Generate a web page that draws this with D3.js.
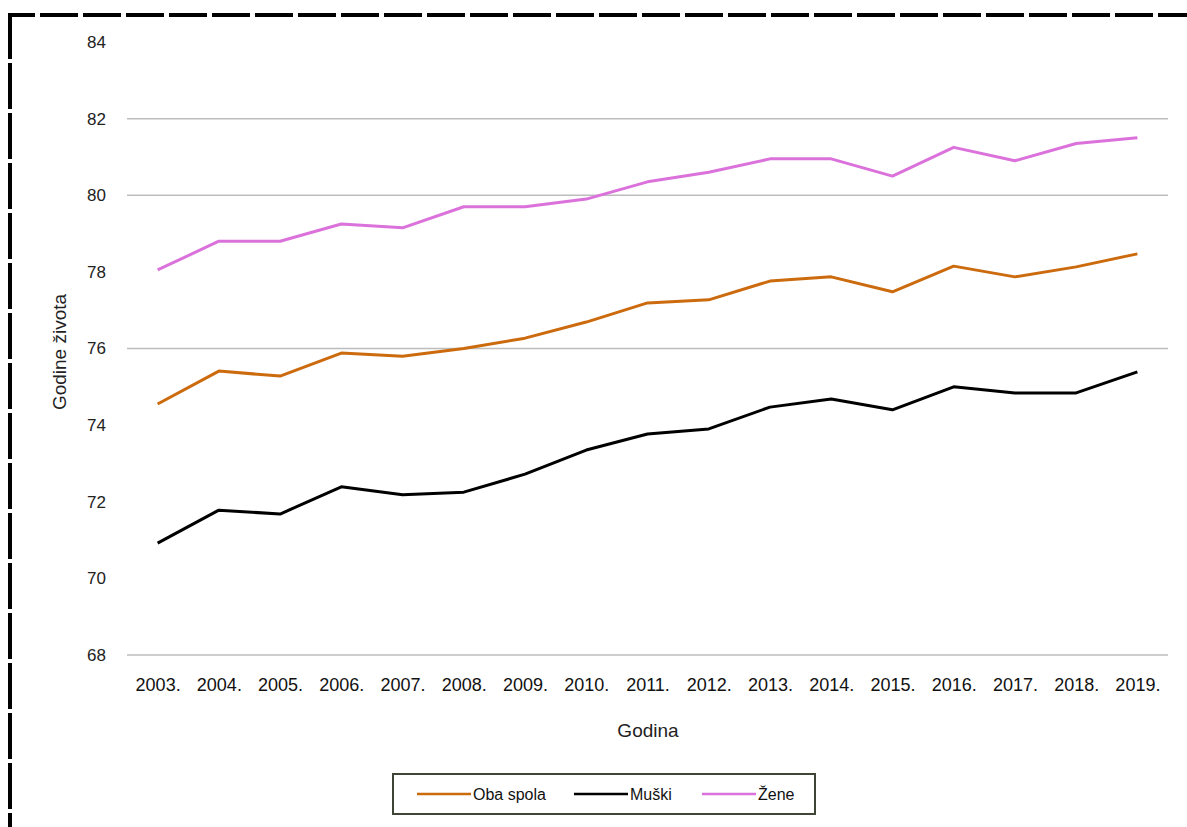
<!DOCTYPE html>
<html>
<head>
<meta charset="utf-8">
<script src="https://cdn.jsdelivr.net/npm/d3@7"></script>
<style>
  body { margin: 0; background: #fff; }
  svg { display: block; font-family: "Liberation Sans", Arial, sans-serif; }
</style>
</head>
<body>
<svg id="chart" width="1187" height="827"></svg>
<script>
const years = ["2003.", "2004.", "2005.", "2006.", "2007.", "2008.", "2009.", "2010.", "2011.",
  "2012.", "2013.", "2014.", "2015.", "2016.", "2017.", "2018.", "2019."];
const obaSpola = [74.55, 75.41, 75.28, 75.88, 75.8, 76.0, 76.27, 76.69, 77.19, 77.27, 77.76, 77.87, 77.48, 78.15, 77.87, 78.13, 78.47];
const muski = [70.92, 71.78, 71.68, 72.39, 72.18, 72.25, 72.72, 73.35, 73.77, 73.9, 74.47, 74.68, 74.4, 75.0, 74.84, 74.84, 75.39];
const zene = [78.05, 78.8, 78.8, 79.25, 79.15, 79.7, 79.7, 79.9, 80.35, 80.6, 80.95, 80.95, 80.5, 81.25, 80.9, 81.35, 81.5];
const yTicks = [68, 70, 72, 74, 76, 78, 80, 82, 84];
const gridValues = [68, 76, 80, 82];

const series = [
  { name: "Oba spola", values: obaSpola, color: "#cc6a0e" },
  { name: "Muški", values: muski, color: "#000000" },
  { name: "Žene", values: zene, color: "#db72db" }
];

const svg = d3.select("#chart");

// dashed frame (top + left only, rest runs off the picture)
svg.append("line")
  .attr("x1", 10).attr("x2", 1187).attr("y1", 15).attr("y2", 15)
  .attr("stroke", "#000").attr("stroke-width", 4)
  .attr("stroke-dasharray", "38,5").attr("stroke-dashoffset", 13);
svg.append("line")
  .attr("x1", 10).attr("x2", 10).attr("y1", 13).attr("y2", 827)
  .attr("stroke", "#000").attr("stroke-width", 4)
  .attr("stroke-dasharray", "46,4");

const x = d3.scalePoint()
  .domain(years)
  .range([127, 1168])
  .padding(0.5);

const y = d3.scaleLinear()
  .domain([68, 84])
  .range([655, 42]);

// grid
svg.append("g")
  .selectAll("line")
  .data(gridValues)
  .join("line")
  .attr("x1", 127).attr("x2", 1168)
  .attr("y1", (d) => y(d)).attr("y2", (d) => y(d))
  .attr("stroke", "#bdbdbd")
  .attr("stroke-width", 1.5);

const yAxis = (g) =>
  g.attr("transform", "translate(106,0)")
    .call(d3.axisLeft(y).tickValues(yTicks).tickSize(0).tickPadding(0))
    .call((g) => g.select(".domain").remove())
    .call((g) => g.selectAll("text").attr("font-size", 17).attr("fill", "#222")
      .attr("font-family", "Liberation Sans, Arial, sans-serif"));

const xAxis = (g) =>
  g.attr("transform", "translate(0,672)")
    .call(d3.axisBottom(x).tickSize(0).tickPadding(6))
    .call((g) => g.select(".domain").remove())
    .call((g) => g.selectAll("text").attr("font-size", 18).attr("fill", "#111")
      .attr("font-family", "Liberation Sans, Arial, sans-serif"));

svg.append("g").call(yAxis);
svg.append("g").call(xAxis);

// axis titles
svg.append("text")
  .attr("x", 648).attr("y", 737)
  .attr("text-anchor", "middle")
  .attr("font-size", 19)
  .attr("fill", "#222")
  .text("Godina");

svg.append("text")
  .attr("transform", "translate(66,352) rotate(-90)")
  .attr("text-anchor", "middle")
  .attr("font-size", 19)
  .attr("fill", "#222")
  .text("Godine života");

// lines
const line = d3.line()
  .x((d, i) => x(years[i]))
  .y((d) => y(d));

svg.append("g")
  .selectAll("path")
  .data(series)
  .join("path")
  .attr("d", (d) => line(d.values))
  .attr("fill", "none")
  .attr("stroke", (d) => d.color)
  .attr("stroke-width", 3)
  .attr("stroke-linejoin", "round");

// legend
const legend = svg.append("g");
legend.append("rect")
  .attr("x", 393).attr("y", 774)
  .attr("width", 422).attr("height", 40)
  .attr("fill", "#fff")
  .attr("stroke", "#3e4436")
  .attr("stroke-width", 2);

const legendX = [417, 574, 702];
const item = legend.selectAll("g.item")
  .data(series)
  .join("g")
  .attr("class", "item")
  .attr("transform", (d, i) => `translate(${legendX[i]},794)`);

item.append("line")
  .attr("x1", 0).attr("x2", 54)
  .attr("stroke", (d) => d.color)
  .attr("stroke-width", 2.5);

item.append("text")
  .attr("x", 56).attr("dy", "0.35em")
  .attr("font-size", 16)
  .attr("fill", "#111")
  .text((d) => d.name);
</script>
</body>
</html>
